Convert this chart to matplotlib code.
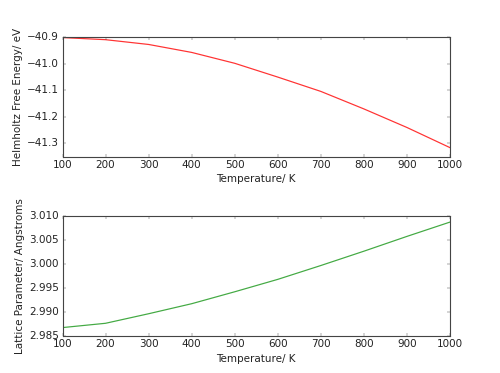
import matplotlib
matplotlib.use("Agg")
import matplotlib.pyplot as plt

temps = [100, 200, 300, 400, 500, 600, 700, 800, 900, 1000]
free_energy = [-40.901, -40.909, -40.927, -40.957, -40.998, -41.050, -41.104, -41.170, -41.240, -41.316]
lattice = [2.9867, 2.9876, 2.9896, 2.9917, 2.9942, 2.9968, 2.9997, 3.0027, 3.0058, 3.0088]

plt.style.use('classic')
DPI = 62.5
fig, (ax1, ax2) = plt.subplots(2, 1, figsize=(500 / DPI, 373 / DPI), dpi=DPI, facecolor='white')
fig.subplots_adjust(left=0.125, right=0.9, top=0.9, bottom=0.1, hspace=0.5)

ax1.plot(temps, free_energy, color='#ff3333', lw=1.4)
ax1.set_xlim(100, 1000)
ax1.set_ylim(-41.35, -40.9)
ax1.set_yticks([-40.9, -41.0, -41.1, -41.2, -41.3])
ax1.set_xlabel('Temperature/ K', color='#222222')
ax1.set_ylabel('Helmholtz Free Energy/ eV', color='#222222')

ax2.plot(temps, lattice, color='#44aa44', lw=1.4)
ax2.set_xlim(100, 1000)
ax2.set_ylim(2.985, 3.010)
ax2.set_yticks([2.985, 2.990, 2.995, 3.000, 3.005, 3.010])
ax2.set_yticklabels(['2.985', '2.990', '2.995', '3.000', '3.005', '3.010'])
ax2.set_xlabel('Temperature/ K', color='#222222')
ax2.set_ylabel('Lattice Parameter/ Angstroms', color='#222222')

for ax in (ax1, ax2):
    ax.tick_params(labelcolor='#222222', colors='#444444')
    for s in ax.spines.values():
        s.set_color('#444444')
        s.set_linewidth(1.3)

fig.savefig('out.png', dpi=DPI, facecolor='white')
